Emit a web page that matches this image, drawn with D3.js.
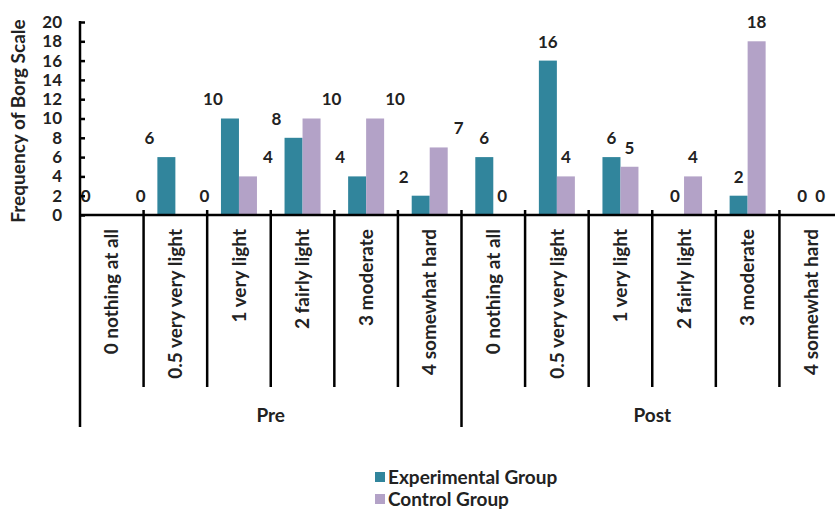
<!DOCTYPE html>
<html>
<head>
<meta charset="utf-8">
<script src="https://cdn.jsdelivr.net/npm/d3@7"></script>
<style>
  html, body { margin: 0; padding: 0; background: #fff; }
  svg { display: block; font-family: Lato, "Open Sans", sans-serif; font-weight: bold; }
</style>
</head>
<body>
<svg id="chart" width="835" height="509"></svg>
<script>
// Borg scale ratings, before and after the intervention
const phases = ["Pre", "Post"];
const levels = ["0 nothing at all", "0.5 very very light", "1 very light",
                "2 fairly light", "3 moderate", "4 somewhat hard"];
const seriesNames = ["Experimental Group", "Control Group"];
const experimental = [0, 6, 10, 8, 4, 2,   6, 16, 6, 0, 2, 0];
const control      = [0, 0, 4, 10, 10, 7,  0, 4, 5, 4, 18, 0];
const yTicks = [0, 2, 4, 6, 8, 10, 12, 14, 16, 18, 20];

const colors = { "Experimental Group": "#31859C", "Control Group": "#B3A2C7" };

const svg = d3.select("#chart");

const left = 80, right = 843, baseY = 215, topY = 22;
const catBottom = 387, groupBottom = 427;

// one band per (phase, level) pair
const rows = [];
phases.forEach((p, pi) => levels.forEach((l, li) => {
  const i = pi * levels.length + li;
  rows.push({ key: p + "|" + l, phase: p, level: l,
              values: [experimental[i], control[i]] });
}));

const x = d3.scaleBand().domain(rows.map(r => r.key)).range([left, right]).paddingInner(0).paddingOuter(0);
const xs = d3.scaleBand().domain(seriesNames).range([-18, 18]);
const y = d3.scaleLinear().domain([0, 20]).range([baseY, topY]);

// bars
const g = svg.append("g");
rows.forEach(r => {
  const cx = x(r.key) + x.bandwidth() / 2;
  seriesNames.forEach((s, si) => {
    const v = r.values[si];
    g.append("rect")
      .attr("x", cx + xs(s))
      .attr("y", y(v))
      .attr("width", xs.bandwidth())
      .attr("height", baseY - y(v))
      .attr("fill", colors[s]);
  });
});

// value labels: the Pre phase labels sit off to the outer side of each pair
rows.forEach(r => {
  const cx = x(r.key) + x.bandwidth() / 2;
  seriesNames.forEach((s, si) => {
    const v = r.values[si];
    const barC = cx + xs(s) + xs.bandwidth() / 2;
    let dx = 0;
    if (r.phase === "Pre") dx = si === 0 ? -17 : 20;
    svg.append("text")
      .attr("x", barC + dx)
      .attr("y", y(v) - 19)
      .attr("dy", "0.35em")
      .attr("text-anchor", "middle")
      .attr("font-size", 17)
      .attr("fill", "#222")
      .text(v);
  });
});

// y axis
const yAxis = d3.axisRight(y).tickValues(yTicks).tickSize(5).tickFormat("");
const ya = svg.append("g").attr("transform", `translate(${left},0)`).call(yAxis);
ya.select(".domain").remove();
ya.selectAll(".tick line").attr("stroke", "#000").attr("stroke-width", 2.5);
svg.append("g").selectAll("text").data(yTicks).join("text")
  .attr("x", left - 18)
  .attr("y", d => y(d))
  .attr("dy", "0.35em")
  .attr("text-anchor", "end")
  .attr("font-size", 17)
  .attr("fill", "#222")
  .text(d => d);
svg.append("line")
  .attr("x1", left).attr("x2", left)
  .attr("y1", y(20) - 1).attr("y2", groupBottom)
  .attr("stroke", "#000").attr("stroke-width", 2.5);

// x axis baseline
svg.append("line")
  .attr("x1", left).attr("x2", right)
  .attr("y1", baseY).attr("y2", baseY)
  .attr("stroke", "#000").attr("stroke-width", 2.5);

// dividers between levels and between phases
rows.forEach((r, i) => {
  if (i === 0) return;
  const bx = x(r.key);
  const isGroup = i % levels.length === 0;
  svg.append("line")
    .attr("x1", bx).attr("x2", bx)
    .attr("y1", baseY - 5).attr("y2", isGroup ? groupBottom : catBottom)
    .attr("stroke", "#000").attr("stroke-width", 2.5);
});
svg.append("line")
  .attr("x1", right).attr("x2", right)
  .attr("y1", baseY - 5).attr("y2", groupBottom)
  .attr("stroke", "#000").attr("stroke-width", 2.5);

// level labels, rotated
rows.forEach(r => {
  const cx = x(r.key) + x.bandwidth() / 2;
  svg.append("text")
    .attr("transform", `translate(${cx},229) rotate(-90)`)
    .attr("text-anchor", "end")
    .attr("dy", "0.35em")
    .attr("font-size", 19)
    .attr("fill", "#222")
    .text(r.level);
});

// phase labels
phases.forEach((p, pi) => {
  const a = x(p + "|" + levels[0]);
  const b = x(p + "|" + levels[levels.length - 1]) + x.bandwidth();
  svg.append("text")
    .attr("x", (a + b) / 2)
    .attr("y", 415)
    .attr("dy", "0.35em")
    .attr("text-anchor", "middle")
    .attr("font-size", 19)
    .attr("fill", "#222")
    .text(p);
});

// y axis title
svg.append("text")
  .attr("transform", "translate(18,121) rotate(-90)")
  .attr("text-anchor", "middle")
  .attr("dy", "0.35em")
  .attr("font-size", 19)
  .attr("fill", "#222")
  .text("Frequency of Borg Scale");

// legend
const lg = svg.append("g").attr("transform", "translate(375,472)");
seriesNames.forEach((s, i) => {
  lg.append("rect").attr("x", 0).attr("y", i * 22).attr("width", 10).attr("height", 10).attr("fill", colors[s]);
  lg.append("text").attr("x", 13).attr("y", i * 22 + 5).attr("dy", "0.35em")
    .attr("font-size", 19).attr("fill", "#222").text(s);
});
</script>
</body>
</html>
